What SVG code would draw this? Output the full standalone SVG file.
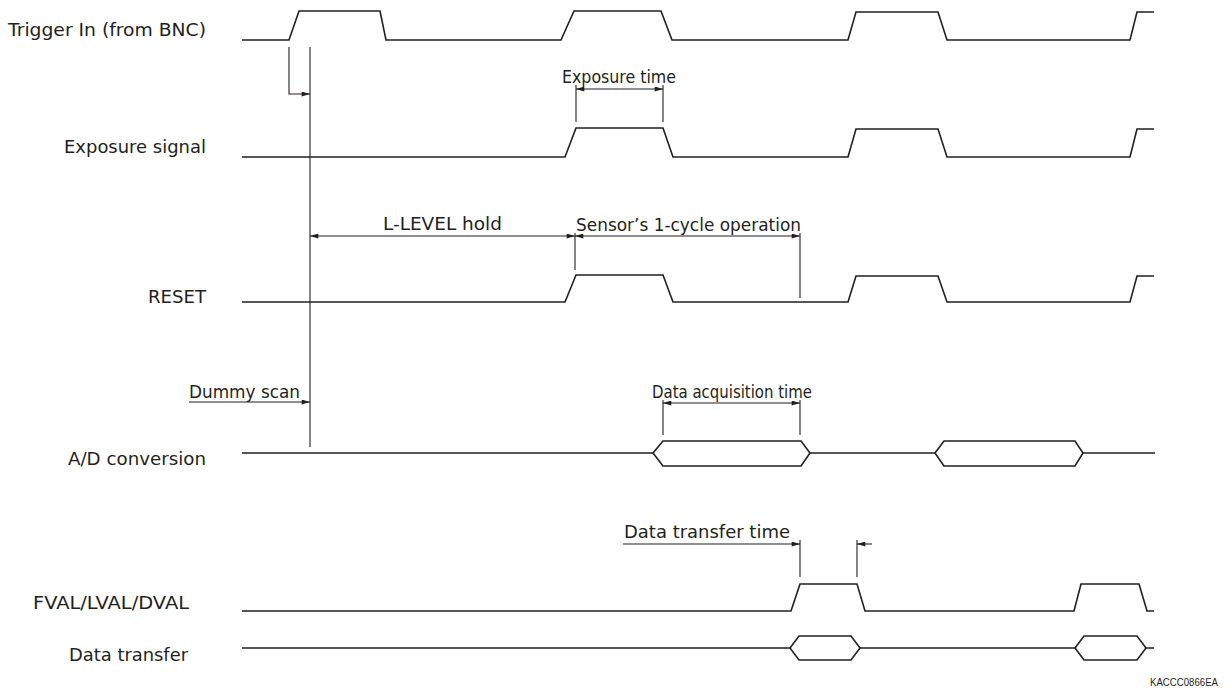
<svg xmlns="http://www.w3.org/2000/svg" width="1227" height="693" viewBox="0 0 1227 693">
<style>
.sig{fill:none;stroke:#231f20;stroke-width:1.6;stroke-linejoin:miter}
.dim{fill:none;stroke:#231f20;stroke-width:1.1}
.lbl{font-family:"DejaVu Sans",Verdana,sans-serif;font-size:18.5px;fill:#231f20}
.ann{font-family:"DejaVu Sans",sans-serif;font-size:18.5px;fill:#231f20}
</style>
<defs>
<marker id="ah" viewBox="0 0 10 6" refX="10" refY="3" markerWidth="9" markerHeight="5" markerUnits="userSpaceOnUse" orient="auto-start-reverse">
<path d="M0,0 L10,3 L0,6 z" fill="#231f20"/>
</marker>
</defs>
<rect width="1227" height="693" fill="#fff"/>

<g id="trigger">
<text class="lbl" x="8" y="36" textLength="198" lengthAdjust="spacingAndGlyphs">Trigger In (from BNC)</text>
<path class="sig" d="M242,40 H289 L299,11 H380 L386,40 H561 L574,11 H661 L672,40 H848 L856,12 H938 L947,40 H1130 L1137,12 H1154"/>
</g>

<g id="exposure">
<text class="lbl" x="64" y="153" textLength="142" lengthAdjust="spacingAndGlyphs">Exposure signal</text>
<path class="sig" d="M242,157 H565 L576,128 H663 L673,157 H848 L856,129 H938 L947,157 H1130 L1137,129 H1154"/>
</g>

<g id="reset">
<text class="lbl" x="148" y="303" textLength="58" lengthAdjust="spacingAndGlyphs">RESET</text>
<path class="sig" d="M242,302 H565 L576,275 H663 L673,302 H848 L856,276 H938 L947,302 H1130 L1137,276 H1154"/>
</g>

<g id="adconv">
<text class="lbl" x="68" y="465" textLength="138" lengthAdjust="spacingAndGlyphs">A/D conversion</text>
<path class="sig" d="M242,453 H653 M810,453 H935 M1083,453 H1155"/>
<path class="sig" d="M653,453 L663,441 H801 L810,453 L801,466 H663 Z"/>
<path class="sig" d="M935,453 L944,441 H1075 L1083,453 L1075,466 H944 Z"/>
</g>

<g id="fval">
<text class="lbl" x="33" y="609" textLength="156" lengthAdjust="spacingAndGlyphs">FVAL/LVAL/DVAL</text>
<path class="sig" d="M242,611 H791 L800,584 H857 L865,611 H1074 L1081,584 H1139 L1147,611 H1154"/>
</g>

<g id="datatransfer">
<text class="lbl" x="69" y="661" textLength="119" lengthAdjust="spacingAndGlyphs">Data transfer</text>
<path class="sig" d="M242,648 H790 M860,648 H1075 M1146,648 H1154"/>
<path class="sig" d="M790,648 L799,636 H851 L860,648 L851,660 H799 Z"/>
<path class="sig" d="M1075,648 L1084,636 H1137 L1146,648 L1137,660 H1084 Z"/>
</g>

<g id="connectors">
<path class="dim" d="M289,47 V94 H310" marker-end="url(#ah)"/>
<path class="dim" d="M310,47 V447"/>
<path class="dim" d="M576,85 V122 M663,85 V122"/>
<path class="dim" d="M576,89 H663" marker-start="url(#ah)" marker-end="url(#ah)"/>
<path class="dim" d="M310,236 H575" marker-start="url(#ah)" marker-end="url(#ah)"/>
<path class="dim" d="M575,233 V270"/>
<path class="dim" d="M575,236 H800" marker-start="url(#ah)" marker-end="url(#ah)"/>
<path class="dim" d="M800,233 V298"/>
<path class="dim" d="M189,402 H310" marker-end="url(#ah)"/>
<path class="dim" d="M663,400 V435 M800,400 V435"/>
<path class="dim" d="M663,403 H800" marker-start="url(#ah)" marker-end="url(#ah)"/>
<path class="dim" d="M800,540 V577 M857,540 V577"/>
<path class="dim" d="M623,544 H800" marker-end="url(#ah)"/>
<path class="dim" d="M872,544 H857" marker-end="url(#ah)"/>
</g>

<g id="annotations">
<text class="ann" x="562" y="83" textLength="114" lengthAdjust="spacingAndGlyphs">Exposure time</text>
<text class="ann" x="383" y="230" textLength="119" lengthAdjust="spacingAndGlyphs">L-LEVEL hold</text>
<text class="ann" x="576" y="231" textLength="225" lengthAdjust="spacingAndGlyphs">Sensor’s 1-cycle operation</text>
<text class="ann" x="189" y="398" textLength="111" lengthAdjust="spacingAndGlyphs">Dummy scan</text>
<text class="ann" x="652" y="398" textLength="160" lengthAdjust="spacingAndGlyphs">Data acquisition time</text>
<text class="ann" x="624" y="538" textLength="166" lengthAdjust="spacingAndGlyphs">Data transfer time</text>
<text x="1150" y="686" font-family="'Liberation Sans',Arial,sans-serif" font-size="11" fill="#231f20" textLength="68" lengthAdjust="spacingAndGlyphs">KACCC0866EA</text>
</g>
</svg>
